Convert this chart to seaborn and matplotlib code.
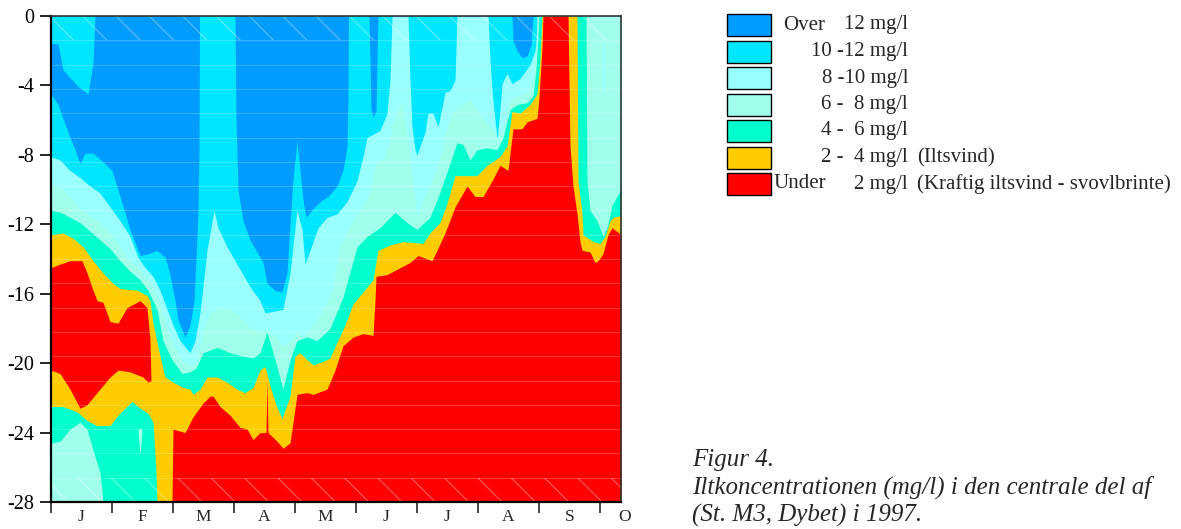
import numpy as np
import matplotlib
matplotlib.use("Agg")
import matplotlib.pyplot as plt
import seaborn as sns
from matplotlib.patches import Rectangle

# ---- data: depth (m) of each concentration boundary against day of year ----
# colour classes, from high to low oxygen
class_colors = ["#009cff", "#00e6ff", "#99ffff", "#a0ffea", "#00ffcc", "#ffcc00", "#ff0000"]
months = ["J", "F", "M", "A", "M", "J", "J", "A", "S", "O"]

# bottom of the >12 mg/l water (top of 10-12)
d12_day = [0, 3.5, 6, 9.5, 12, 14.5, 17, 21, 26, 30.5, 34.5, 39.5, 44.5, 48.5, 53, 57, 59.5, 62, 63.5, 67,
           69.5, 71.5, 72.5, 73.5, 74, 74.25, 92, 92.5, 93.5, 96, 99.5, 106, 108, 112, 115.5, 118, 119, 121, 123,
           124.5, 126, 127.5, 131, 135.5, 138.5, 143, 146, 148, 148.5, 148.75, 159, 159.5, 160, 161, 162.5, 163,
           163.5, 230.5, 231, 233, 235.5, 238, 240, 241, 285]
d12_depth = [4.5, 5.1, 5.9, 7.0, 7.7, 8.5, 7.9, 7.9, 8.4, 8.9, 10.4, 12.3, 13.8, 13.7, 13.5, 13.9, 14.9, 16.4, 17.5, 18.5,
             17.8, 16.4, 14.1, 11.2, 7.7, 0, 0, 6.0, 10.0, 11.8, 12.9, 14.2, 15.4, 15.8, 15.9, 14.8, 12.9, 9.4, 7.2,
             8.9, 10.6, 11.6, 11.1, 10.6, 10.4, 9.8, 8.9, 7.5, 4.8, 0, 0, 2.5, 5.4, 5.8, 5.5, 2.5,
             0, 0, 1.4, 2.0, 2.4, 2.3, 1.7, 0, 0]

# 10-12 mg/l cap at the surface in January
cap_day = [0, 3.5, 6, 13, 18.5, 21, 22]
cap_depth = [1.6, 1.6, 3.1, 4.0, 4.5, 2.7, 0]

# top of 8-10
d10_day = [0, 4.5, 9.5, 14.5, 19.5, 24.5, 29.5, 34.5, 39.5, 43.5, 47, 51, 54.5, 58, 61, 64.5, 68, 69.5, 72, 74.5,
           78, 81.5, 83.5, 88, 94.5, 99.5, 104.5, 107, 112, 116, 119.5, 123, 125.5, 127, 129.5, 133.5, 138, 143,
           148, 153, 156, 158, 164.5, 168, 169.5, 170.5, 178.5, 179.5, 180.5, 182, 183, 187, 188.5, 191, 193.5,
           197, 199.5, 202, 203, 218.5, 219.5, 220.5, 223, 224.5, 225.5, 228, 230.5, 234.5, 239.5, 242, 243,
           243.5, 285]
d10_depth = [8.1, 8.3, 8.9, 9.3, 9.8, 10.2, 11.0, 11.8, 12.7, 13.9, 14.5, 15.0, 15.8, 16.9, 17.8, 18.7, 19.2, 19.4, 18.7,
             17.1, 13.5, 11.2, 12.2, 13.3, 14.6, 15.6, 16.4, 17.1, 17.0, 16.9, 14.8, 11.2, 12.3, 14.3, 13.5, 12.2,
             11.6, 11.4, 10.7, 9.5, 8.1, 7.0, 6.6, 5.6, 3.7, 0, 0, 3.7, 6.4, 7.7, 8.0, 6.7, 5.6, 5.6, 6.4, 4.4,
             4.3, 3.7, 0, 0, 2.5, 4.3, 7.1, 5.4, 3.9, 3.3, 3.9, 3.6, 2.8, 2.0, 1.1, 0, 0]

# top of 6-8
d8_day = [0, 6, 11, 14.5, 19.5, 24.5, 29.5, 34.5, 39.5, 44.5, 49.5, 54.5, 59.5, 66, 70.5, 73, 76, 79.5, 84.5, 89.5,
          94.5, 99.5, 103, 107, 112, 116, 119.5, 123, 126, 131, 136, 140.5, 144.5, 151, 158, 163, 164.5, 167,
          173, 175.5, 178, 180.5, 183, 186, 189.5, 193, 194.5, 198, 201, 204.5, 209.5, 213, 218, 221, 223.5,
          226, 229.5, 233, 238, 241, 242.5, 243, 285]
d8_depth = [9.7, 10.0, 10.6, 11.1, 11.5, 11.9, 12.5, 13.3, 14.1, 14.6, 15.3, 16.5, 18.5, 19.9, 20.1, 19.9, 18.1, 17.1,
            16.8, 16.9, 17.3, 17.9, 18.1, 18.1, 18.4, 19.0, 18.7, 18.1, 18.5, 17.8, 16.9, 15.8, 13.2, 11.8, 10.6,
            8.3, 8.3, 8.1, 5.4, 5.0, 6.7, 9.0, 11.6, 10.6, 9.8, 8.7, 8.1, 6.4, 5.4, 5.2, 4.8, 5.4, 6.2, 6.6, 7.1,
            6.5, 4.8, 4.6, 4.4, 3.7, 1.7, 0, 0]

# top of 4-6
d6_day = [0, 4.5, 9.5, 14.5, 19.5, 24.5, 29.5, 34.5, 39.5, 44.5, 48.5, 53, 56, 60.5, 65.5, 69.5, 72.5, 76, 83, 89.5,
          96, 101, 104.5, 108, 112, 116, 119.5, 123, 128, 133, 139.5, 146, 153, 158, 164.5, 172, 178, 183, 189.5,
          193, 198, 203, 206, 209.5, 213, 218, 223, 226, 229.5, 233, 238, 241, 242.5, 243.5, 244, 267.5, 268,
          269.5, 273, 276, 278, 280.5, 284.5, 285]
d6_depth = [11.2, 11.3, 11.6, 11.9, 12.4, 12.9, 13.4, 14.1, 14.7, 15.2, 15.8, 16.9, 18.7, 19.8, 20.6, 20.5, 20.3, 19.4,
            19.1, 19.4, 19.6, 19.7, 19.4, 18.2, 19.8, 21.5, 19.8, 18.7, 18.5, 18.7, 18.0, 16.2, 13.3, 12.7, 12.2,
            11.3, 11.9, 12.3, 11.6, 10.6, 9.0, 7.3, 7.4, 8.3, 7.7, 7.6, 7.7, 7.0, 5.4, 5.1, 5.0, 4.6, 3.1, 1.0, 0,
            0, 9.5, 11.2, 11.8, 12.7, 12.2, 10.9, 10.1, 10.0]

# top of 2-4
d4_day = [0, 6, 11, 16, 21, 26, 31, 34.5, 43, 48, 49.5, 51, 54.5, 57, 61, 66, 69.5, 71, 74.5, 78, 83, 88, 93, 97,
          101, 104.5, 107, 109.5, 112.5, 115.5, 119.5, 122, 124.5, 128, 131, 136, 139.5, 143, 147, 151, 154.5,
          161, 163.5, 169.5, 176, 186, 189.5, 194.5, 198, 202, 209.5, 213, 218, 224.5, 228, 230.5, 234.5, 239.5,
          243, 244.5, 245.5, 263, 263.5, 265.5, 266, 271, 274.5, 277, 279.5, 281, 285]
d4_depth = [12.6, 12.5, 12.8, 13.3, 14.1, 14.8, 15.4, 15.7, 15.8, 16.1, 16.4, 17.7, 19.6, 20.8, 21.1, 21.4, 21.5, 21.8,
            21.5, 20.8, 20.8, 21.1, 21.5, 21.7, 21.4, 20.4, 20.2, 21.3, 22.4, 23.2, 21.9, 19.6, 19.4, 19.8, 20.1,
            19.9, 19.7, 18.8, 17.8, 16.6, 16.1, 15.2, 13.5, 13.2, 13.0, 13.1, 12.5, 11.9, 10.8, 9.2, 9.2, 9.2, 8.6,
            8.1, 7.5, 5.5, 5.6, 5.1, 4.5, 2.5, 0, 0, 9.5, 11.4, 12.6, 13.0, 13.1, 12.7, 11.8, 11.6, 11.5]

# top of <2 (red)
d2_day = [0, 4.5, 9.5, 15.5, 18, 21, 23, 26, 29.5, 33.5, 38, 44.5, 48, 49.5, 50, 50.5, 60.5, 61, 67, 71, 76, 79.5,
          81, 84.5, 89.5, 94.5, 98, 101, 104.5, 107.5, 108, 108.5, 113, 116, 119.5, 120.5, 123, 128, 131, 138, 142,
          146, 151, 156, 161, 162, 162.5, 168, 179.5, 183.5, 190.5, 193, 197, 202, 208, 212, 216, 221, 224.5,
          228.5, 231, 235.5, 238, 243, 244, 245.5, 246, 258.5, 259.5, 261, 263, 264.5, 265.5, 269.5, 272, 273.5,
          276, 278.5, 280.5, 285]
d2_depth = [14.5, 14.3, 14.1, 14.1, 14.8, 15.8, 16.4, 16.5, 17.6, 17.7, 16.8, 16.4, 16.8, 18.7, 21.0, 28, 28, 23.8,
            24.0, 23.1, 22.3, 21.9, 21.9, 22.5, 23.0, 23.7, 23.8, 24.4, 24.0, 24.0, 21.0, 24.0, 24.5, 24.9, 24.6,
            23.8, 21.8, 21.7, 21.8, 21.5, 20.4, 19.0, 18.5, 18.3, 18.4, 16.4, 15.0, 14.9, 14.2, 13.8, 14.1, 13.5,
            12.5, 11.0, 9.8, 10.4, 10.4, 9.4, 8.6, 8.9, 6.5, 6.5, 6.1, 5.9, 4.7, 1.8, 0, 0, 7.5, 9.8, 11.4, 13.0,
            13.5, 13.6, 14.2, 14.1, 13.7, 12.6, 12.2, 12.6]

# better oxygenated bottom water in Jan-Feb (under the red pocket)
b4_day = [0, 4.5, 9.5, 14.5, 18, 23, 29.5, 33.5, 39.5, 46, 48.5, 50.5]
b4_depth = [20.4, 20.6, 21.5, 22.6, 22.4, 21.7, 20.8, 20.4, 20.5, 20.8, 21.1, 21.0]
b6_day = [0, 6, 13, 18, 23, 29.5, 33.5, 40.5, 43.5, 48.5, 51, 52.5, 53]
b6_depth = [22.5, 22.5, 22.8, 23.3, 23.6, 23.6, 23.0, 22.2, 22.5, 22.9, 23.4, 26.2, 28]
b8_day = [0, 4.5, 9.5, 14.5, 18, 21, 24.5, 26]
b8_depth = [24.6, 24.5, 23.8, 23.4, 23.8, 25.0, 26.3, 28]

# small pockets
p8_day = [43.5, 44.5, 45.5]
p8_top = [23.9, 23.7, 23.9]
p8_bot = [24.0, 25.2, 24.0]
p10_day = [275.5, 276.2, 277]
p10_top = [1.6, 1.4, 1.6]
p10_bot = [4.0, 4.6, 4.0]

legend_prefix = ["Over", "", "", "", "", "", "Under"]
legend_range = ["12 mg/l", "10 -12 mg/l", "8 -10 mg/l", "6 -  8 mg/l", "4 -  6 mg/l", "2 -  4 mg/l", "2 mg/l"]
legend_note = ["", "", "", "", "", "(Iltsvind)", "(Kraftig iltsvind - svovlbrinte)"]

# ---- figure ----
sns.set_theme(style="white")
plt.rcParams['font.family'] = ['Liberation Serif', 'DejaVu Serif']

W, H = 1181, 529
fig = plt.figure(figsize=(W / 100, H / 100), dpi=100)
ax = fig.add_axes([51 / W, 1 - 502 / H, 570 / W, 486 / H])

c_over, c10, c8, c6, c4, c2, c0 = class_colors
ax.set_facecolor(c_over)


def fill_down(days, depth, color):
    ax.fill_between(days, -np.asarray(depth), -28, color=color, lw=0)


fill_down(d12_day, d12_depth, c10)
ax.fill_between(cap_day, 0, -np.asarray(cap_depth), color=c10, lw=0)
fill_down(d10_day, d10_depth, c8)
fill_down(d8_day, d8_depth, c6)
fill_down(d6_day, d6_depth, c4)
fill_down(d4_day, d4_depth, c2)
fill_down(d2_day, d2_depth, c0)
fill_down(b4_day, b4_depth, c2)
fill_down(b6_day, b6_depth, c4)
fill_down(b8_day, b8_depth, c6)
ax.fill_between(p8_day, -np.asarray(p8_top), -np.asarray(p8_bot), color=c6, lw=0)
ax.fill_between(p10_day, -np.asarray(p10_top), -np.asarray(p10_bot), color=c8, lw=0)

# faint plotting artefacts of the original: light grid and hatched strips
for k in range(1, 20):
    ax.axhline(-1.4 * k, color="white", alpha=0.22, lw=0.8)
ax.axhspan(-1.4, 0, fc="none", ec=(1, 1, 1, 0.3), hatch="\\", lw=0)
ax.axhspan(-28, -26.6, fc="none", ec=(1, 1, 1, 0.3), hatch="\\", lw=0)

ax.set_xlim(0, 285)
ax.set_ylim(-28, 0)
ax.set_yticks(range(0, -29, -4))
ax.set_yticklabels([str(v) for v in range(0, -29, -4)])
ax.set_xticks([i * 30.5 for i in range(10)])
ax.set_xticklabels([])
ax.tick_params(axis="y", direction="out", length=8, width=1.2, pad=4, labelsize=14.5, left=True, colors="black")
ax.tick_params(axis="x", direction="out", length=8, width=1.2, bottom=True)
ax.grid(False)
for i, m in enumerate(months):
    xm = i * 30.5 + 15.25 if i < 9 else 287
    ax.text(xm, -15 / 486, m, transform=ax.get_xaxis_transform(), ha="center", va="center",
            fontsize=12.5, clip_on=False)

for side in ["left", "bottom"]:
    ax.spines[side].set_color("black")
    ax.spines[side].set_linewidth(1.6)
for side in ["top", "right"]:
    ax.spines[side].set_color("#333333")
    ax.spines[side].set_linewidth(1.2)

# ---- legend ----
for i in range(7):
    top = 14 + i * 26.5
    fig.add_artist(Rectangle((727 / W, 1 - (top + 22) / H), 44 / W, 22 / H, transform=fig.transFigure,
                             facecolor=class_colors[i], edgecolor="black", lw=1))
    yc = 1 - (top + 11) / H
    if legend_prefix[i]:
        fig.text((783 if i == 0 else 773) / W, yc, legend_prefix[i], ha="left", va="center", fontsize=15)
    fig.text(908 / W, yc, legend_range[i], ha="right", va="center", fontsize=15)
    if legend_note[i]:
        fig.text(917 / W, yc, legend_note[i], ha="left", va="center", fontsize=15)

# ---- caption ----
caption = ["Figur 4.", "Iltkoncentrationen (mg/l) i den centrale del af", "(St. M3, Dybet) i 1997."]
for j, line in enumerate(caption):
    fig.text(692 / W, 1 - (466 + 28 * j) / H, line, ha="left", va="baseline", fontsize=18, style="italic")

fig.savefig("out.png", dpi=100)
